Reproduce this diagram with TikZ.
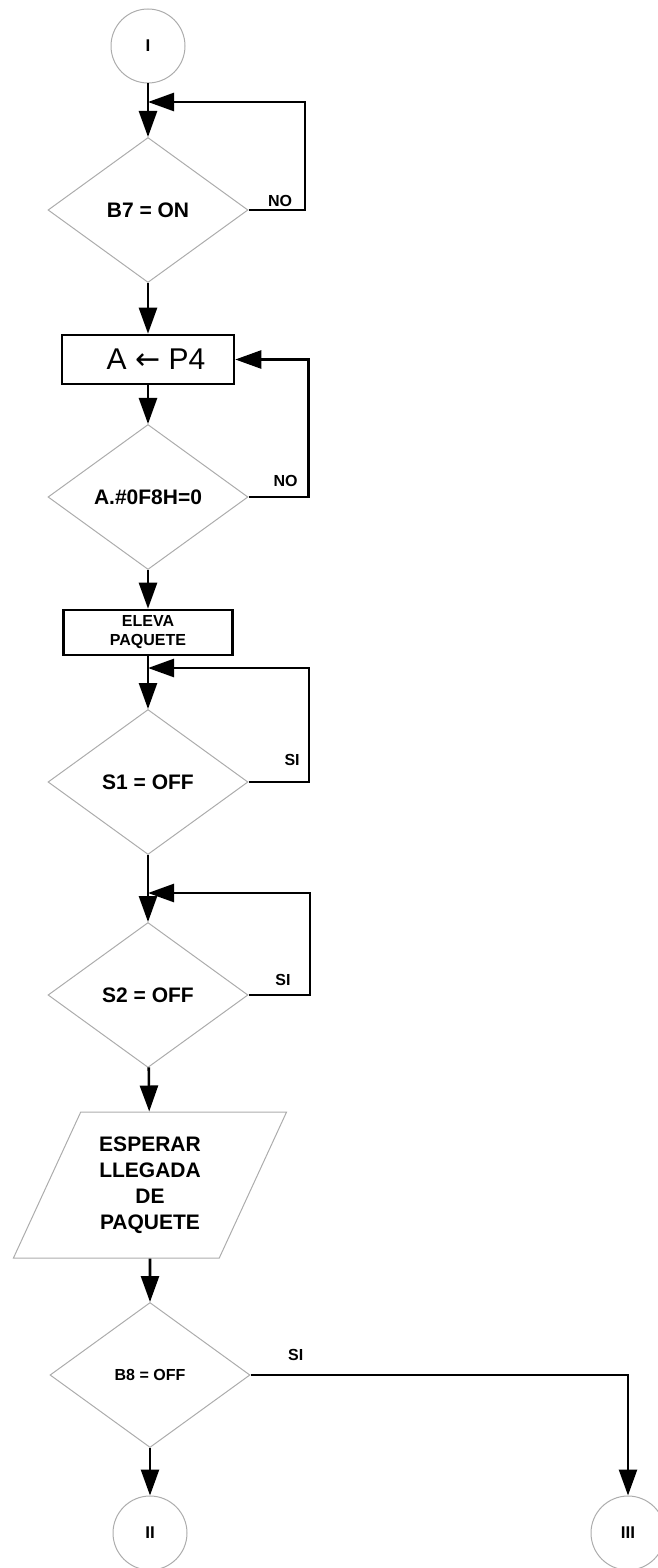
\documentclass[tikz,border=0pt]{standalone}
\usepackage{fontspec}
\setmainfont{Liberation Sans}
\newfontfamily\arrowfont{DejaVu Sans}
\usetikzlibrary{arrows.meta,shapes.geometric}

\begin{document}
\begin{tikzpicture}[x=0.5pt,y=-0.5pt,every node/.style={font=\bfseries\fontsize{10.5}{13}\selectfont},
  decision/.style={draw=gray!65,line width=0.5pt,diamond,inner sep=0pt,minimum width=100pt,minimum height=72.5pt},
  connector/.style={draw=gray!65,line width=0.5pt,circle,inner sep=0pt,minimum size=37pt,font=\bfseries\fontsize{8.5}{10}\selectfont},
  procbox/.style={draw,line width=1.3pt,inner sep=1pt},
  flow/.style={line width=1.3pt,-{Triangle[length=13pt,width=9pt]}},
  lbl/.style={font=\bfseries\fontsize{8}{9}\selectfont,inner sep=0pt}]
\useasboundingbox (0,0) rectangle (658,1568);
\clip (0,0) rectangle (658,1568);
\node[connector] (ini) at (148,46){I};
\node[decision] (b7) at (148,210){B7 = ON};
\node[procbox,minimum width=86pt,minimum height=24.5pt,font=\fontsize{15}{18}\selectfont] (lee) at (148,359.5){\hspace{8pt}A {\arrowfont ←} P4};
\node[decision] (mask) at (148,497){A.\#0F8H=0};
\node[procbox,minimum width=84.5pt,minimum height=22.5pt,align=center,font=\bfseries\fontsize{8}{9.5}\selectfont] (eleva) at (148,632.5){ELEVA\\PAQUETE};
\node[decision] (s1) at (148,782){S1 = OFF};
\node[decision] (s2) at (148,995){S2 = OFF};
\node[draw=gray!65,line width=0.5pt,trapezium,trapezium left angle=63,trapezium right angle=117,trapezium stretches=true,minimum width=138pt,minimum height=73pt,inner sep=0pt,align=center] (espera) at (150,1185){ESPERAR\\LLEGADA\\DE\\PAQUETE};
\node[decision,font=\bfseries\fontsize{8}{9}\selectfont] (b8) at (150,1375){B8 = OFF};
\node[connector] (fin2) at (150,1533){II};
\node[connector] (fin3) at (628,1533){III};
\coordinate (j1) at (148,102);
\coordinate (j3) at (148,668);
\coordinate (j4) at (148,893);
\draw[flow] (ini) -- (b7);
\draw[flow] (b7) -- (lee);
\draw[flow] (lee) -- (mask);
\draw[flow] (mask) -- (eleva);
\draw[flow] (eleva) -- (s1);
\draw[flow] (s1) -- (s2);
\draw[flow] (s2) -- (espera);
\draw[flow] (espera.south) -- (b8);
\draw[flow] (b8) -- (fin2);
\draw[flow] (b7.east) -| (305,102) node[lbl,pos=0.28,above=1pt]{NO} -- (j1);
\draw[flow] (mask.east) -| ([xshift=36.5pt]lee.east) node[lbl,pos=0.31,above=4.5pt]{NO} -- (lee.east);
\draw[flow] (s1.east) -| (309,668) node[lbl,pos=0.36,above=7.5pt]{SI} -- (j3);
\draw[flow] (s2.east) -| (310,893) node[lbl,pos=0.28,above=4pt]{SI} -- (j4);
\draw[flow] (b8.east) -| (fin3) node[lbl,pos=0.06,above=6.5pt]{SI};
\end{tikzpicture}
\end{document}
